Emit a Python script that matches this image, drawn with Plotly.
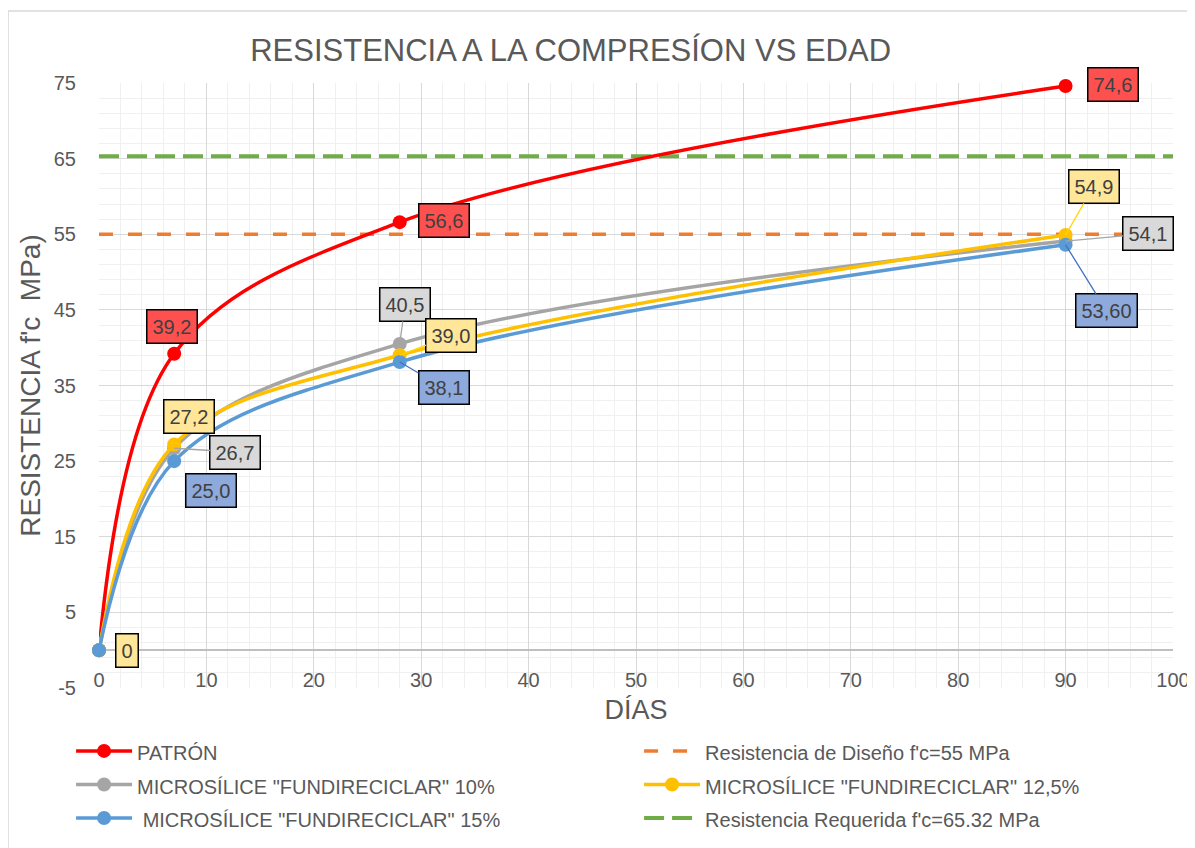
import plotly.graph_objects as go

# datos
dias = [0, 7, 28, 90]
patron = [0, 39.2, 56.6, 74.6]
micro_10 = [0, 26.7, 40.5, 54.1]
micro_125 = [0, 27.2, 39.0, 54.9]
micro_15 = [0, 25.0, 38.1, 53.6]

ref_x = [0, 100]
diseno = [55, 55]
requerida = [65.32, 65.32]

y_ticks = [-5, 5, 15, 25, 35, 45, 55, 65, 75]
y_ticktext = ["-5", "5", "15", "25", "35", "45", "55", "65", "75"]

txt_patron = ["", "39,2", "56,6", "74,6"]
txt_10 = ["", "26,7", "40,5", "54,1"]
txt_125 = ["0", "27,2", "39,0", "54,9"]
txt_15 = ["", "25,0", "38,1", "53,60"]

FONT = "Liberation Sans, Arial, sans-serif"
GRIS_TXT = "#595959"

fig = go.Figure()


def leyenda(nombre):
    # texto mas pequeño que la fuente de la leyenda para separar las filas
    return '<span style="font-size:20px">' + nombre + '</span>'


def serie(nombre, y, color, rank):
    fig.add_trace(go.Scatter(
        x=dias, y=y, name=leyenda(nombre), mode="lines+markers",
        line=dict(color=color, width=3.5, shape="spline", smoothing=1),
        marker=dict(color=color, size=14),
        legendrank=rank, cliponaxis=False,
    ))


def referencia(nombre, y, color, dash, width, rank):
    fig.add_trace(go.Scatter(
        x=ref_x, y=y, name=leyenda(nombre), mode="lines",
        line=dict(color=color, width=width, dash=dash),
        legendrank=rank,
    ))


referencia("Resistencia de Diseño f'c=55 MPa", diseno, "#ED7D31", "14px,15px", 3.5, 2)
referencia("Resistencia Requerida f'c=65.32 MPa", requerida, "#70AD47", "20px,8px", 4, 6)
serie("PATRÓN", patron, "#FF0000", 1)
serie('MICROSÍLICE "FUNDIRECICLAR" 10%', micro_10, "#A5A5A5", 3)
serie('MICROSÍLICE "FUNDIRECICLAR" 12,5%', micro_125, "#FFC000", 4)
serie('&nbsp;MICROSÍLICE "FUNDIRECICLAR" 15%', micro_15, "#5B9BD5", 5)

# etiquetas: (desplazamiento x, desplazamiento y, linea guia)
desp = {
    "patron": [None, (-0.2, 3.6, False), (4.1, 0.2, False), (4.4, 0.2, False)],
    "m10": [None, (5.7, -0.5, True), (0.5, 5.2, True), (7.7, 1.0, True)],
    "m125": [(2.6, 0, False), (1.4, 3.7, False), (4.8, 2.6, True), (2.6, 6.4, True)],
    "m15": [None, (3.4, -3.9, False), (4.1, -3.4, True), (3.8, -8.7, True)],
}
estilos = {
    "patron": (patron, txt_patron, "#FF5050", "#FF0000"),
    "m10": (micro_10, txt_10, "#D9D9D9", "#A5A5A5"),
    "m125": (micro_125, txt_125, "#FFE699", "#FFD700"),
    "m15": (micro_15, txt_15, "#8EA9DB", "#4472C4"),
}
for k, (ys, textos, fondo, guia) in estilos.items():
    for i, d in enumerate(desp[k]):
        if d is None or not textos[i]:
            continue
        dx, dy, linea = d
        base = dict(text=textos[i], font=dict(family=FONT, size=20, color="#404040"),
                    bgcolor=fondo, bordercolor="#000000", borderwidth=1.5, borderpad=5)
        if linea:
            fig.add_annotation(x=dias[i], y=ys[i], ax=dias[i] + dx, ay=ys[i] + dy,
                               xref="x", yref="y", axref="x", ayref="y",
                               showarrow=True, arrowhead=0, arrowwidth=1.3,
                               arrowcolor=guia, standoff=0, **base)
        else:
            fig.add_annotation(x=dias[i] + dx, y=ys[i] + dy, xref="x", yref="y",
                               showarrow=False, **base)

# marco exterior
fig.add_shape(type="rect", xref="paper", yref="paper",
              x0=-0.0847, x1=1.03, y0=-0.35, y1=1.119,
              line=dict(color="#D9D9D9", width=1.5), layer="below")

fig.update_layout(
    width=1187, height=840,
    margin=dict(l=91, r=22, t=75, b=160, autoexpand=False),
    paper_bgcolor="white", plot_bgcolor="white",
    font=dict(family=FONT, color=GRIS_TXT),
    title=dict(text="RESISTENCIA A LA COMPRESÍON VS EDAD", x=0.474, xanchor="center",
               y=0.95, yanchor="middle", font=dict(size=31, color=GRIS_TXT)),
    showlegend=True,
    legend=dict(orientation="h", x=-0.026, xanchor="left", y=-0.068, yanchor="top",
                entrywidth=497, entrywidthmode="pixels", itemwidth=56,
                font=dict(size=23.5, color=GRIS_TXT), tracegroupgap=0),
)

fig.update_xaxes(
    range=[0, 100], tick0=0, dtick=10, showgrid=True, gridcolor="#D9D9D9", gridwidth=1,
    minor=dict(dtick=2, showgrid=True, gridcolor="#F0F0F0"),
    zeroline=False, showline=False, ticks="",
    ticklabelstandoff=-22, ticklabeloverflow="allow",
    tickfont=dict(size=20, color=GRIS_TXT),
    title=dict(text="DÍAS", font=dict(size=27, color=GRIS_TXT), standoff=10),
)
fig.update_yaxes(
    range=[-5, 75], tickmode="array", tickvals=y_ticks, ticktext=y_ticktext,
    showgrid=True, gridcolor="#D9D9D9", gridwidth=1,
    minor=dict(tickmode="linear", tick0=-5, dtick=2, showgrid=True, gridcolor="#F0F0F0"),
    zeroline=True, zerolinecolor="#BFBFBF", zerolinewidth=1.5,
    showline=False, ticks="", ticklabelstandoff=22,
    tickfont=dict(size=20, color=GRIS_TXT),
    title=dict(text="RESISTENCIA f'c  MPa)", font=dict(size=28, color=GRIS_TXT), standoff=4),
)

fig.write_html("out.html")
